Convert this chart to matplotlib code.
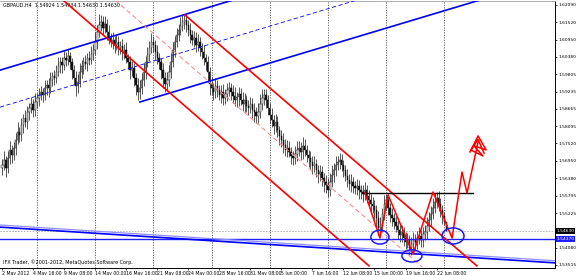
import numpy as np
import matplotlib.pyplot as plt
from matplotlib.patches import Ellipse

# GBPAUD H4 closes, one block per trading week
closes = [
    # 2-4 May
    1.5681, 1.5698, 1.5671, 1.5704, 1.5730, 1.5714, 1.5737, 1.5763, 1.5790, 1.5780,
    1.5813, 1.5836, 1.5823, 1.5856, 1.5869, 1.5882, 1.5863, 1.5889,
    # 7-11 May
    1.5902, 1.5912, 1.5922, 1.5912, 1.5935, 1.5945, 1.5935, 1.5961, 1.5974, 1.5968,
    1.5988, 1.6008, 1.6021, 1.6011, 1.6034, 1.6028, 1.6041, 1.6021, 1.5994, 1.5968,
    1.5941, 1.5955, 1.5988, 1.6008, 1.6021, 1.6014, 1.6034, 1.6028, 1.6047, 1.6061,
    # 14-18 May
    1.6087, 1.6120, 1.6143, 1.6153, 1.6133, 1.6146, 1.6120, 1.6100, 1.6087, 1.6094,
    1.6077, 1.6087, 1.6067, 1.6074, 1.6054, 1.6061, 1.6034, 1.6021, 1.5994, 1.6001,
    1.5968, 1.5945, 1.5922, 1.5935, 1.5961, 1.5988, 1.6021, 1.6044, 1.6067, 1.6087,
    # 21-25 May
    1.6077, 1.6054, 1.6034, 1.6021, 1.5994, 1.5968, 1.5948, 1.5961, 1.5988, 1.6021,
    1.6061, 1.6087, 1.6110, 1.6127, 1.6140, 1.6153, 1.6160, 1.6143, 1.6127, 1.6110,
    1.6094, 1.6100, 1.6077, 1.6087, 1.6067, 1.6054, 1.6034, 1.6021, 1.5988, 1.5948,
    # 28 May - 1 Jun
    1.5935, 1.5922, 1.5941, 1.5928, 1.5912, 1.5922, 1.5902, 1.5915, 1.5928, 1.5935,
    1.5922, 1.5909, 1.5896, 1.5905, 1.5915, 1.5896, 1.5882, 1.5896, 1.5876, 1.5869,
    1.5882, 1.5863, 1.5856, 1.5843, 1.5856, 1.5882, 1.5902, 1.5912, 1.5896, 1.5869,
    # 4-8 Jun
    1.5846, 1.5830, 1.5810, 1.5823, 1.5796, 1.5777, 1.5763, 1.5747, 1.5730, 1.5737,
    1.5724, 1.5711, 1.5704, 1.5717, 1.5730, 1.5737, 1.5724, 1.5744, 1.5730, 1.5714,
    1.5704, 1.5691, 1.5678, 1.5684, 1.5665, 1.5651, 1.5658, 1.5638, 1.5625, 1.5615,
    # 11-15 Jun
    1.5598, 1.5625, 1.5648, 1.5665, 1.5681, 1.5691, 1.5698, 1.5681, 1.5665, 1.5645,
    1.5632, 1.5618, 1.5625, 1.5612, 1.5605, 1.5612, 1.5598, 1.5592, 1.5585, 1.5598,
    1.5579, 1.5566, 1.5552, 1.5546, 1.5532, 1.5506, 1.5473, 1.5480, 1.5519, 1.5552,
    # 18-22 Jun
    1.5566, 1.5539, 1.5516, 1.5506, 1.5493, 1.5480, 1.5466, 1.5450, 1.5460, 1.5440,
    1.5427, 1.5433, 1.5407, 1.5420, 1.5433, 1.5427, 1.5440, 1.5447, 1.5433, 1.5453,
    1.5460, 1.5480, 1.5500, 1.5519, 1.5539, 1.5559, 1.5572, 1.5552, 1.5532, 1.5513,
    # 25 Jun
    1.5492, 1.5463,
]
first_open = 1.5672

# wick lengths in pips above / below the body
up_wick = [
    20, 28, 12, 24, 30, 16, 20, 24, 32, 18, 22, 14, 26, 20, 16, 24, 18, 28,
    16, 24, 20, 12, 28, 18, 22, 26, 14, 20, 24, 30, 18, 16, 28, 20, 24, 14, 12, 18,
    22, 26, 30, 20, 16, 24, 18, 22, 28, 20,
    32, 24, 36, 22, 20, 28, 16, 22, 18, 26, 14, 24, 20, 16, 22, 18, 26, 14, 20, 24,
    16, 18, 22, 28, 24, 30, 20, 26, 22, 30,
    20, 16, 24, 18, 14, 22, 20, 28, 24, 30, 26, 20, 24, 18, 28, 22, 16, 20, 16, 24,
    18, 22, 20, 26, 16, 18, 24, 14, 20, 16,
    24, 18, 28, 20, 16, 22, 26, 18, 24, 20, 16, 22, 28, 18, 24, 20, 26, 22, 16, 18,
    24, 20, 22, 18, 28, 32, 30, 20, 20, 16,
    18, 22, 16, 26, 20, 14, 18, 24, 20, 28, 22, 18, 16, 26, 30, 22, 20, 28, 24, 18,
    16, 22, 20, 26, 18, 16, 24, 20, 18, 22,
    24, 28, 32, 24, 30, 20, 22, 20, 18, 16, 22, 20, 26, 18, 16, 24, 20, 18, 22, 26,
    16, 20, 18, 24, 20, 16, 24, 28, 20, 30,
    20, 20, 18, 22, 16, 20, 24, 18, 22, 16, 20, 24, 18, 22, 26, 20, 24, 28, 20, 22,
    24, 30, 26, 28, 32, 30, 20, 24, 20, 18,
    12, 1,
]
down_wick = [
    24, 18, 30, 16, 20, 26, 18, 22, 14, 24, 20, 28, 16, 22, 26, 18, 24, 20,
    20, 26, 18, 24, 16, 22, 28, 18, 20, 24, 16, 14, 22, 26, 18, 20, 16, 24, 28, 22,
    32, 24, 18, 20, 26, 16, 22, 18, 14, 20,
    18, 22, 16, 20, 24, 18, 26, 20, 16, 22, 28, 18, 24, 20, 26, 22, 18, 24, 28, 20,
    26, 32, 25, 24, 20, 18, 22, 16, 20, 18,
    22, 26, 20, 24, 28, 32, 25, 24, 18, 20, 16, 22, 18, 20, 16, 18, 22, 24, 20, 26,
    18, 22, 24, 20, 26, 22, 24, 28, 32, 36,
    22, 26, 20, 24, 18, 28, 22, 20, 24, 18, 26, 22, 20, 24, 28, 18, 22, 26, 20, 24,
    18, 28, 32, 23, 24, 20, 18, 22, 26, 24,
    26, 22, 28, 20, 24, 30, 22, 26, 20, 24, 18, 28, 22, 20, 24, 18, 26, 22, 20, 24,
    28, 22, 26, 20, 24, 28, 22, 26, 32, 25,
    24, 20, 18, 22, 20, 16, 24, 20, 22, 18, 24, 20, 26, 22, 20, 24, 28, 22, 26, 20,
    24, 22, 26, 24, 28, 32, 23, 28, 20, 18,
    20, 24, 22, 26, 24, 20, 28, 24, 22, 26, 24, 20, 23, 24, 22, 26, 24, 20, 24, 22,
    20, 24, 18, 20, 16, 18, 20, 22, 24, 26,
    9, 0,
]

time_labels = ["2 May 2012", "4 May 16:00", "9 May 08:00", "14 May 00:00", "16 May 16:00",
               "21 May 08:00", "24 May 00:00", "28 May 16:00", "31 May 08:00", "5 Jun 00:00",
               "7 Jun 16:00", "12 Jun 08:00", "15 Jun 00:00", "19 Jun 16:00", "22 Jun 08:00"]
label_step = 16
week_starts = [18, 48, 78, 108, 138, 168, 198, 228]

price_ticks = [1.62090, 1.61520, 1.60950, 1.60380, 1.59805, 1.59235, 1.58665, 1.58095,
               1.57520, 1.56950, 1.56380, 1.55795, 1.55225, 1.54650, 1.54080, 1.53515]

last_price = 1.54630
level_price = 1.54370
neck_price = 1.5588
neck_span = (186.1, 242.8)

# drawn objects, in (bar, price)
blue_lines = [((-1.03, 1.5994), (119.1, 1.62255)),
              ((71.1, 1.5889), (246.4, 1.62255)),
              ((-1.03, 1.5476), (285.05, 1.5358))]
blue_light = [((-1.03, 1.5483), (285.05, 1.5365))]
blue_dashed = [((-1.03, 1.5872), (183.0, 1.62255))]
red_lines = [((31.4, 1.62255), (189.2, 1.5348)),
             ((94.3, 1.6176), (244.8, 1.5348))]
red_dashed = [((58.2, 1.62255), (216.5, 1.5345))]

zigzag_bar = [187.1, 194.8, 199.0, 211.9, 222.2, 232.0, 237.1, 239.7, 245.4]
zigzag_price = [1.5589, 1.5440, 1.5582, 1.5387, 1.5592, 1.5440, 1.5658, 1.5589, 1.5757]
arrow_bar = [241.2, 245.4, 249.5, 243.3, 247.9, 241.8, 245.4, 248.5]
arrow_price = [1.5724, 1.5777, 1.5731, 1.5744, 1.5711, 1.5730, 1.5765, 1.5720]

circles = [(194.8, 1.5443, 9.3, 0.0046),
           (211.3, 1.5381, 10.3, 0.0040),
           (232.5, 1.5447, 11.3, 0.0053)]


closes = np.array(closes)
opens = np.concatenate([[first_open], closes[:-1]])
highs = np.maximum(opens, closes) + np.array(up_wick) / 1e4
lows = np.minimum(opens, closes) - np.array(down_wick) / 1e4
bars = np.arange(len(closes))

fig = plt.figure(figsize=(5.76, 2.75), dpi=100)
ax = fig.add_axes([0.0, 7 / 275, 555 / 576, 267 / 275])
ax.set_xlim(-1.03, 285.05)
ax.set_ylim(1.53411, 1.62222)

# week separators
for w in week_starts:
    ax.axvline(w, color="#555555", lw=0.6, ls=(0, (1.5, 1.5)), zorder=0)

# candles
ax.vlines(bars, lows, highs, color="#3a3a3a", lw=0.6, zorder=2)
bull = closes >= opens
body = np.maximum(np.abs(closes - opens), 0.00006)
base = np.minimum(opens, closes)
ax.bar(bars[bull], body[bull], bottom=base[bull], width=0.7,
       color="#e8e8e8", edgecolor="#202020", linewidth=0.35, zorder=3)
ax.bar(bars[~bull], body[~bull], bottom=base[~bull], width=0.7,
       color="#101010", edgecolor="#101010", linewidth=0.35, zorder=3)

# price lines
ax.axhline(last_price, color="#b0b0b0", lw=0.6, ls=(0, (2, 1.5)), zorder=1)
ax.axhline(level_price, color="#2020ff", lw=1.0, zorder=4)

# trend lines
for (p0, p1) in blue_lines:
    ax.plot([p0[0], p1[0]], [p0[1], p1[1]], color="#0000ff", lw=1.2, zorder=5)
for (p0, p1) in blue_light:
    ax.plot([p0[0], p1[0]], [p0[1], p1[1]], color="#8c8cff", lw=0.9, zorder=4)
for (p0, p1) in blue_dashed:
    ax.plot([p0[0], p1[0]], [p0[1], p1[1]], color="#0000ff", lw=0.6,
            ls=(0, (5, 3)), zorder=5)
for (p0, p1) in red_lines:
    ax.plot([p0[0], p1[0]], [p0[1], p1[1]], color="#ff0000", lw=1.2, zorder=5)
for (p0, p1) in red_dashed:
    ax.plot([p0[0], p1[0]], [p0[1], p1[1]], color="#ff8080", lw=0.7,
            ls=(0, (5, 3)), zorder=5)

ax.plot(neck_span, [neck_price, neck_price], color="black", lw=1.0, zorder=5)

ax.plot(zigzag_bar, zigzag_price, color="#ff0000", lw=1.1, zorder=6)
ax.plot(arrow_bar, arrow_price, color="#ff0000", lw=1.1, zorder=6)

for (cx, cy, w, h) in circles:
    ax.add_patch(Ellipse((cx, cy), w, h, fill=False, edgecolor="#1a1aff",
                         lw=1.1, zorder=6))

# axes and ticks; the tick under the last-price box gets no label
ax.yaxis.tick_right()
ax.set_yticks(price_ticks)
ax.set_yticklabels(["" if abs(p - last_price) < 0.0005 else f"{p:.5f}"
                    for p in price_ticks])
ax.tick_params(axis="y", length=1.5, width=0.5, labelsize=3.2, pad=1.0, colors="black")

tick_pos = [i * label_step for i in range(len(time_labels))]
ax.set_xticks(tick_pos)
ax.set_xticklabels(time_labels, ha="left")
ax.tick_params(axis="x", length=1.5, width=0.5, labelsize=3.3, pad=0.5)

ax.spines["left"].set_visible(False)
ax.spines["top"].set_color("#a0a0a0")
ax.spines["top"].set_linewidth(0.6)
ax.spines["right"].set_linewidth(0.7)
ax.spines["bottom"].set_linewidth(0.7)

ax.text(0.005, 0.992, "GBPAUD,H4  1.54924 1.54934 1.54630 1.54630",
        transform=ax.transAxes, fontsize=3.5, va="top", ha="left")
ax.text(0.005, 0.022, "IFX Trader, \u00a92001-2012, MetaQuotes Software Corp.",
        transform=ax.transAxes, fontsize=3.5, va="center", ha="left")

ytr = ax.get_yaxis_transform()
ax.text(1.003, last_price, f"{last_price:.5f}", transform=ytr, fontsize=3.2,
        color="white", va="center", ha="left",
        bbox=dict(facecolor="black", edgecolor="none", pad=0.5), zorder=10)
ax.text(1.003, level_price, f"{level_price:.5f}", transform=ytr, fontsize=3.2,
        color="white", va="center", ha="left",
        bbox=dict(facecolor="#2020ff", edgecolor="none", pad=0.5), zorder=10)

fig.savefig("out.png", dpi=100)
